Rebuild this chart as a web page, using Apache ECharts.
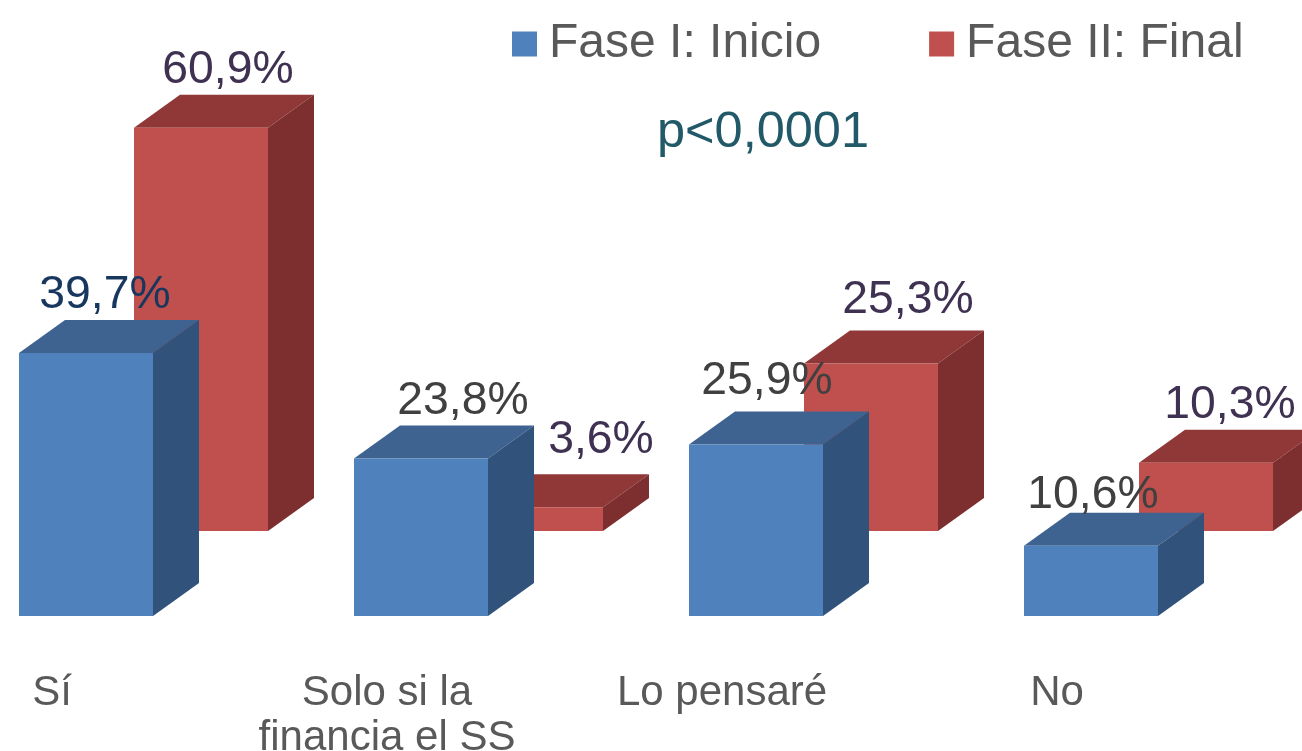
<!DOCTYPE html>
<html>
<head>
<meta charset="utf-8">
<title>Fase I / Fase II</title>
<script src="https://cdn.jsdelivr.net/npm/echarts@6/dist/echarts.min.js"></script>
<style>
  html, body { margin: 0; padding: 0; background: #fff; }
  #chart { width: 1302px; height: 751px; }
</style>
</head>
<body>
<div id="chart"></div>
<script>
const categories = ['Sí', 'Solo si la\nfinancia el SS', 'Lo pensaré', 'No'];
const faseInicio = [39.7, 23.8, 25.9, 10.6];
const faseFinal = [60.9, 3.6, 25.3, 10.3];
const seriesNames = ['Fase I: Inicio', 'Fase II: Final'];
const pValueText = 'p<0,0001';

// layout of the fake 3d boxes, in px
const barWidth = 134;
const barLeft = -33;
const depthX = 46;
const depthY = -33;
const backRowX = 115;
const backRowY = -85;

// data labels were placed by hand in the original, so each has its own shift [x from bar centre, y from bar top]
const inicioLabelShift = [[19, -58], [42, -57], [11, -63], [2, -51]];
const finalLabelShift = [[27, -57], [65, -67], [37, -63], [24, -58]];
const inicioLabelColors = ['#17375e', '#404040', '#404040', '#404040'];
const finalLabelColors = ['#3f3151', '#3f3151', '#3f3151', '#3f3151'];

const FONT = '"Liberation Sans", Arial, sans-serif';

function box(params, api, opts) {
    const idx = api.value(0);
    const val = api.value(1);
    const top = api.coord([idx, val]);
    const base = api.coord([idx, 0]);
    const x0 = top[0] + barLeft + opts.offX;
    const x1 = x0 + barWidth;
    const y0 = top[1] + opts.offY;
    const y1 = base[1] + opts.offY;
    const shift = opts.shift[idx];
    return {
        type: 'group',
        children: [
            {
                type: 'polygon',
                shape: { points: [[x0, y0], [x1, y0], [x1 + depthX, y0 + depthY], [x0 + depthX, y0 + depthY]] },
                style: { fill: opts.topColor }
            },
            {
                type: 'polygon',
                shape: { points: [[x1, y0], [x1 + depthX, y0 + depthY], [x1 + depthX, y1 + depthY], [x1, y1]] },
                style: { fill: opts.sideColor }
            },
            {
                type: 'rect',
                shape: { x: x0, y: y0, width: barWidth, height: y1 - y0 },
                style: { fill: opts.color }
            },
            {
                type: 'text',
                style: {
                    text: val.toFixed(1).replace('.', ',') + '%',
                    x: x0 + barWidth / 2 + shift[0],
                    y: y0 + shift[1],
                    fill: opts.labelColors[idx],
                    fontSize: 46.3,
                    fontFamily: FONT,
                    textAlign: 'center',
                    textVerticalAlign: 'middle'
                }
            }
        ]
    };
}

const chart = echarts.init(document.getElementById('chart'), null, { renderer: 'canvas' });
chart.setOption({
    animation: false,
    backgroundColor: '#ffffff',
    legend: {
        data: seriesNames,
        left: 507,
        top: 15,
        icon: 'rect',
        itemWidth: 25,
        itemHeight: 25,
        itemGap: 108,
        selectedMode: false,
        textStyle: { fontSize: 48, fontFamily: FONT, color: '#595959', padding: [0, 0, 0, 7] }
    },
    grid: { left: 52, right: 245, top: 20, bottom: 135, outerBoundsMode: 'none' },
    xAxis: {
        type: 'category',
        data: categories,
        boundaryGap: false,
        axisLine: { show: false },
        axisTick: { show: false },
        axisLabel: {
            interval: 0,
            margin: 55,
            fontSize: 42,
            lineHeight: 45,
            fontFamily: FONT,
            color: '#595959'
        }
    },
    yAxis: { type: 'value', min: 0, max: 90, show: false },
    graphic: [{
        type: 'text',
        left: 657,
        top: 108,
        style: { text: pValueText, fontSize: 50.5, fontFamily: FONT, fill: '#215968' }
    }],
    series: [
        {
            name: seriesNames[1],
            type: 'custom',
            itemStyle: { color: '#c0504d' },
            encode: { x: 0, y: 1 },
            data: faseFinal.map((v, i) => [i, v]),
            renderItem: (params, api) => box(params, api, {
                offX: backRowX, offY: backRowY, color: '#c0504d', topColor: '#8f3837', sideColor: '#7c2f2e',
                shift: finalLabelShift, labelColors: finalLabelColors
            })
        },
        {
            name: seriesNames[0],
            type: 'custom',
            itemStyle: { color: '#4f81bd' },
            encode: { x: 0, y: 1 },
            data: faseInicio.map((v, i) => [i, v]),
            renderItem: (params, api) => box(params, api, {
                offX: 0, offY: 0, color: '#4f81bd', topColor: '#3e6390', sideColor: '#31527a',
                shift: inicioLabelShift, labelColors: inicioLabelColors
            })
        }
    ]
});
</script>
</body>
</html>
